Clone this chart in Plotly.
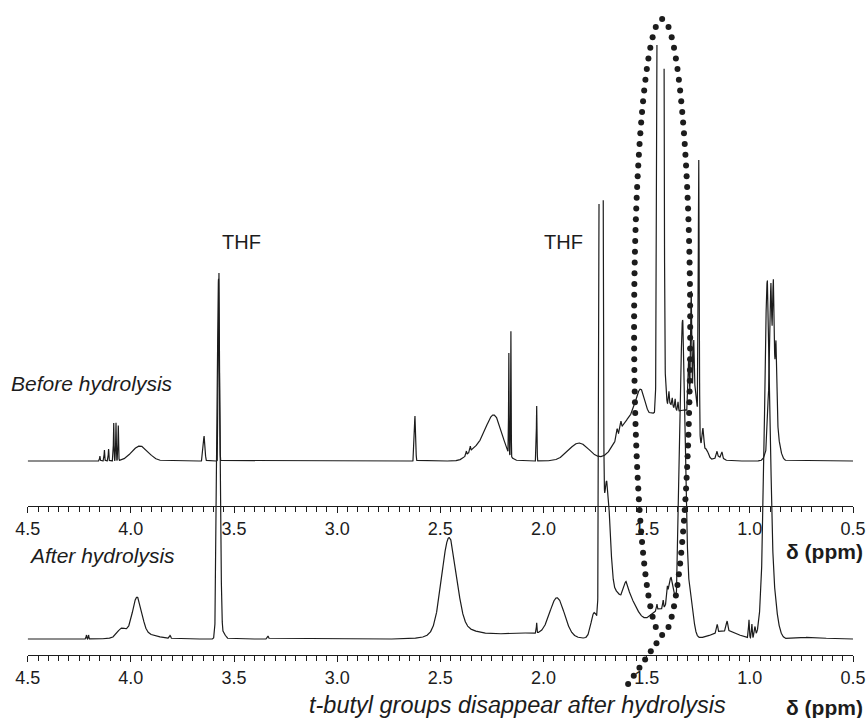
import numpy as np
import plotly.graph_objects as go

# ---------------------------------------------------------------
# 1H NMR spectra before / after hydrolysis (chemical shift in ppm)
# Each spectrum is given as a peak table: centre (ppm), height (a.u.),
# Gaussian width sigma (ppm).
# ---------------------------------------------------------------
PPM_LEFT, PPM_RIGHT = 4.5, 0.5
tick_vals = [4.5, 4.0, 3.5, 3.0, 2.5, 2.0, 1.5, 1.0, 0.5]
tick_text = ["4.5", "4.0", "3.5", "3.0", "2.5", "2.0", "1.5", "1.0", "0.5"]

before_center = [4.150, 4.128, 4.108, 4.083, 4.072, 4.061, 3.956, 3.645, 3.573,
                 2.623, 2.374, 2.355, 2.350, 2.290, 2.235, 2.168, 2.158, 2.033,
                 1.828, 1.643, 1.625, 1.580, 1.525, 1.470, 1.433, 1.400, 1.405,
                 1.392, 1.376, 1.362, 1.348, 1.300, 1.296, 1.284, 1.272, 1.262,
                 1.2475, 1.227, 1.210, 1.159, 1.135, 1.150, 0.886, 0.910, 0.898,
                 0.886, 0.873]
before_height = [5, 11, 12, 38, 38, 35, 15, 25, 188,
                 45, 4, 5, 6, 14, 40, 100, 125, 55,
                 18, 8, 8, 42, 42, 20, 7700, 55, 10,
                 12, 8, 10, 9, 45, 55, 120, 60, 35,
                 265, 22, 8, 6, 6, 4, 55, 40, 130,
                 125, 75]
before_width = [0.0015, 0.0015, 0.0015, 0.0015, 0.0015, 0.0015, 0.040, 0.004, 0.0025,
                0.003, 0.002, 0.002, 0.030, 0.040, 0.037, 0.0012, 0.0012, 0.0015,
                0.050, 0.003, 0.003, 0.060, 0.025, 0.020, 0.007, 0.045, 0.002,
                0.002, 0.002, 0.002, 0.002, 0.040, 0.003, 0.003, 0.003, 0.012,
                0.0022, 0.004, 0.010, 0.003, 0.003, 0.020, 0.020, 0.004, 0.004,
                0.004, 0.004]
before_clip = 419          # the t-butyl singlet runs off scale

after_center = [4.215, 4.205, 4.045, 3.970, 3.960, 3.810, 3.575, 3.550, 3.335,
                2.458, 2.420, 2.100, 2.033, 1.934, 1.755, 1.721, 1.695, 1.650,
                1.600, 1.600, 1.430, 1.380, 1.450, 1.420, 1.400, 1.326, 1.290,
                1.120, 1.158, 1.110, 1.004, 0.990, 0.975, 0.930, 0.915, 0.905,
                0.700]
after_height = [4, 4, 8, 36, 6, 3, 360, 5, 3,
                92, 10, 6, 10, 38, 25, 3000, 150, 15,
                45, 12, 30, 40, 6, 8, 10, 310, 40,
                8, 8, 10, 18, 14, 10, 40, 260, 80,
                2]
after_width = [0.0015, 0.0015, 0.020, 0.022, 0.070, 0.003, 0.007, 0.010, 0.003,
               0.035, 0.090, 0.150, 0.0015, 0.035, 0.015, 0.005, 0.018, 0.015,
               0.050, 0.010, 0.060, 0.015, 0.002, 0.002, 0.002, 0.013, 0.015,
               0.060, 0.003, 0.004, 0.002, 0.002, 0.003, 0.015, 0.012, 0.025,
               0.050]
after_clip = 446           # the 1.72 ppm THF line runs off scale

# ---------------------------------------------------------------
# Figure geometry
# ---------------------------------------------------------------
FIG_W, FIG_H = 868, 718
X_DOMAIN = [27.7 / FIG_W, 853.0 / FIG_W]
UPPER_RANGE = [-257, 461]   # baseline of "before" trace sits at 0
LOWER_RANGE = [-79, 639]    # baseline of "after" trace sits at 0
UPPER_AXIS_POS = 1 - 506 / FIG_H
LOWER_AXIS_POS = 1 - 655 / FIG_H

INK = "#1c1c1c"
FONT = "Liberation Sans, Arial, sans-serif"

ppm = np.linspace(PPM_RIGHT, PPM_LEFT, 16001)


def spectrum(centers, heights, widths, clip):
    y = np.zeros_like(ppm)
    for c, h, w in zip(centers, heights, widths):
        y += h * np.exp(-((ppm - c) ** 2) / (2 * w * w))
    # lines that leave the plotted window are cut, not capped
    return np.where(y > clip, np.nan, y)


before = spectrum(before_center, before_height, before_width, before_clip)
after = spectrum(after_center, after_height, after_width, after_clip)

fig = go.Figure()
fig.add_trace(go.Scatter(x=ppm, y=before, mode="lines", xaxis="x", yaxis="y",
                         line=dict(color=INK, width=1.2), hoverinfo="skip",
                         showlegend=False))
fig.add_trace(go.Scatter(x=ppm, y=after, mode="lines", xaxis="x2", yaxis="y2",
                         line=dict(color=INK, width=1.2), hoverinfo="skip",
                         showlegend=False))

# ---------------------------------------------------------------
# Dotted loop around the t-butyl signal with a tail to the caption
# (expressed in ppm and in units of the "before" trace)
# ---------------------------------------------------------------
loop_x, loop_rx = 1.425, 0.136
loop_y, loop_ry = 134.0, 308.0
tail_x, tail_y = 1.59, -223.0
dot_gap_px = 10.8

px_per_ppm = FIG_W * (X_DOMAIN[1] - X_DOMAIN[0]) / abs(PPM_LEFT - PPM_RIGHT)
px_per_unit = FIG_H / (UPPER_RANGE[1] - UPPER_RANGE[0])


def evenly_spaced(xs, ys, gap, closed=False):
    dx = np.diff(xs) * px_per_ppm
    dy = np.diff(ys) * px_per_unit
    s = np.concatenate([[0], np.cumsum(np.hypot(dx, dy))])
    n = int(round(s[-1] / gap))
    targets = np.linspace(0, s[-1], n + (0 if closed else 1), endpoint=not closed)
    return np.interp(targets, s, xs), np.interp(targets, s, ys)


t = np.linspace(0, 2 * np.pi, 6000)
ex, ey = evenly_spaced(loop_x + loop_rx * np.sin(t), loop_y - loop_ry * np.cos(t),
                       dot_gap_px, closed=True)
s = np.linspace(0, 1, 400)
tx, ty = evenly_spaced(loop_x + (tail_x - loop_x) * s,
                       (loop_y - loop_ry) + (tail_y - (loop_y - loop_ry)) * s,
                       dot_gap_px)
fig.add_trace(go.Scatter(x=np.concatenate([ex, tx[1:]]), y=np.concatenate([ey, ty[1:]]),
                         mode="markers", xaxis="x", yaxis="y",
                         marker=dict(size=6, color=INK, line=dict(width=0)),
                         hoverinfo="skip", showlegend=False, cliponaxis=False))

axis_common = dict(
    range=[PPM_LEFT, PPM_RIGHT], domain=X_DOMAIN, anchor="free", automargin=False,
    showline=True, linecolor=INK, linewidth=1.3, showgrid=False, zeroline=False,
    ticks="outside", ticklen=6, tickwidth=1.1, tickcolor=INK,
    tickvals=tick_vals, ticktext=tick_text,
    tickfont=dict(family=FONT, size=18, color=INK),
    minor=dict(dtick=0.05, tick0=0.5, ticks="outside", ticklen=4.5,
               tickwidth=1, tickcolor=INK, showgrid=False),
)

fig.update_layout(
    width=FIG_W, height=FIG_H,
    margin=dict(l=0, r=0, t=0, b=0, autoexpand=False),
    paper_bgcolor="white", plot_bgcolor="white",
    xaxis=dict(position=UPPER_AXIS_POS, **axis_common),
    xaxis2=dict(position=LOWER_AXIS_POS, overlaying="x", **axis_common),
    yaxis=dict(range=UPPER_RANGE, domain=[0, 1], anchor="x", visible=False),
    yaxis2=dict(range=LOWER_RANGE, domain=[0, 1], anchor="x2", overlaying="y",
                visible=False),
    showlegend=False,
)

notes = [
    dict(text="THF", x=220 / FIG_W, y=1 - 242 / FIG_H, xanchor="left", size=20),
    dict(text="THF", x=585 / FIG_W, y=1 - 242 / FIG_H, xanchor="right", size=20),
    dict(text="<i>Before hydrolysis</i>", x=9 / FIG_W, y=1 - 383 / FIG_H,
         xanchor="left", size=21),
    dict(text="<i>After hydrolysis</i>", x=27 / FIG_W, y=1 - 555 / FIG_H,
         xanchor="left", size=21),
    dict(text="<i>t-butyl groups disappear after hydrolysis</i>",
         x=517 / FIG_W, y=1 - 705 / FIG_H, xanchor="center", size=23.5),
]
for n in notes:
    size = n.pop("size")
    fig.add_annotation(xref="paper", yref="paper", yanchor="middle",
                       showarrow=False, font=dict(family=FONT, size=size, color=INK),
                       **n)
for ypix in (551, 707):
    fig.add_annotation(xref="paper", yref="paper", x=864 / FIG_W, y=1 - ypix / FIG_H,
                       xanchor="right", yanchor="middle", showarrow=False,
                       borderpad=0,
                       text="<b>δ (ppm)</b>", font=dict(family=FONT, size=21, color=INK))

fig.write_html("out.html")
